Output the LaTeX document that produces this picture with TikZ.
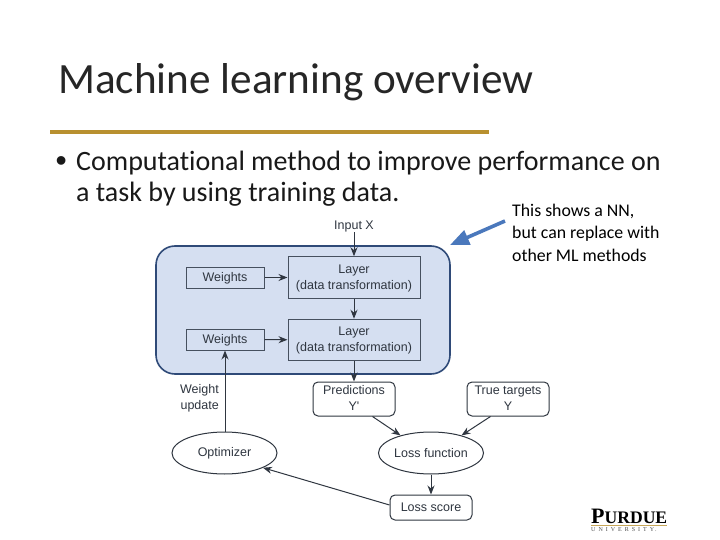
\documentclass[tikz,border=0pt]{standalone}
\usepackage{fontspec}
\setmainfont[Ligatures=NoCommon]{Carlito}
\newfontfamily\diagfont{Liberation Sans}
\newfontfamily\logofont{Liberation Serif}
\usetikzlibrary{arrows.meta,shapes.geometric}
\definecolor{inkc}{HTML}{2F3640}
\definecolor{boxc}{HTML}{46505F}
\definecolor{fillc}{HTML}{D5DFF1}
\definecolor{edgec}{HTML}{2F4A78}
\definecolor{goldc}{HTML}{B8902F}
\definecolor{arrowc}{HTML}{4A78BC}
\tikzset{
  flow/.style={draw=inkc,line width=1pt,-{Stealth[length=9pt,width=7pt]}},
  plain/.style={font=\diagfont\fontsize{12.5}{16}\selectfont,text=inkc,align=center,inner sep=0pt},
  squarebox/.style={plain,draw=boxc,line width=1pt,fill=fillc,minimum height=21pt},
  layerbox/.style={squarebox,minimum width=132pt,minimum height=41.5pt,text depth=1pt},
  weightbox/.style={squarebox,minimum width=78pt,minimum height=21pt,text depth=1pt},
  roundbox/.style={plain,draw=inkc,line width=1pt,rounded corners=5pt,fill=white,minimum width=82pt},
  oval/.style={plain,draw=inkc,line width=1pt,ellipse,fill=white,minimum width=105pt,minimum height=42pt},
  titletext/.style={anchor=base west,inner sep=0pt,font=\fontsize{43.2}{48}\selectfont,text=black!85},
  bodytext/.style={anchor=base west,inner sep=0pt,font=\fontsize{28}{32}\selectfont,text=black!90},
  notetext/.style={anchor=base west,inner sep=0pt,font=\fontsize{17.8}{20}\selectfont,text=black}
}
\begin{document}
\begin{tikzpicture}[x=1pt,y=-1pt]
\useasboundingbox (0,0) rectangle (720,540);
\fill[white] (0,0) rectangle (720,540);
% title and text
\node[titletext] (title) at (58,94) {Machine learning overview};
\fill[goldc] (50,130.5) rectangle (489,134.5);
\node[anchor=base west,inner sep=0pt,font=\diagfont\fontsize{32}{36}\selectfont,text=black!90] (bullet) at (55.5,172) {•};
\node[bodytext] (line1) at (76,171) {Computational method to improve performance on};
\node[bodytext] (line2) at (76,202) {a task by using training data.};
\node[notetext] (note1) at (512,217) {This shows a NN,};
\node[notetext] (note2) at (512,239) {but can replace with};
\node[notetext] (note3) at (512,261) {other ML methods};
% pointer arrow
\coordinate (ptail) at (505,221);
\coordinate (phead) at (450,245);
\draw[arrowc,line width=3.6pt,-{Triangle[length=19pt,width=15pt]}] (ptail) -- (phead);
% blue panel
\node[draw=edgec,line width=1.6pt,fill=fillc,rounded corners=19pt,minimum width=294pt,minimum height=128pt,inner sep=0pt] (panel) at (303,310) {};
% nodes
\node[plain] (input) at (354,226.5) {Input X};
\node[layerbox] (layer1) at (354,277.5) {Layer\\(data transformation)};
\node[layerbox] (layer2) at (354,340) {Layer\\(data transformation)};
\node[weightbox] (w1) at (225,277.5) {Weights};
\node[weightbox] (w2) at (225,339.5) {Weights};
\node[plain,align=right,anchor=east] (wu) at (219,398) {Weight\\update};
\node[roundbox,minimum height=34pt,text depth=2pt] (pred) at (354,399) {Predictions\\Y'};
\node[roundbox,minimum height=34pt,text depth=2pt] (true) at (508,399) {True targets\\Y};
\node[oval,text depth=1.5pt] (opt) at (224.5,453) {Optimizer};
\node[oval] (lossf) at (431,453) {Loss function};
\node[roundbox,minimum height=25pt] (score) at (431,507.5) {Loss score};
% connectors
\draw[flow] (input) -- (layer1);
\draw[flow] (layer1) -- (layer2);
\draw[flow] (layer2) -- (pred);
\draw[flow] (w1) -- (layer1);
\draw[flow] (w2) -- (layer2);
\draw[flow] (opt.north -| w2.south) -- (w2.south);
\draw[flow] (pred.south east) ++(-23,0) coordinate (pfrom) (pfrom) -- (lossf.150);
\draw[flow] (true.south west) ++(24,0) coordinate (tfrom) (tfrom) -- (lossf.30);
\draw[flow] (lossf) -- (score);
\draw[flow] (score.west) ++(0,-2.5) coordinate (sfrom) (sfrom) -- (opt.-21);
% logo
\node[inner sep=0pt,anchor=base west,font=\logofont\bfseries,text=black] (logo) at (591,523) {{\fontsize{22}{22}\selectfont P}{\fontsize{17.6}{22}\selectfont URDUE}};
\fill[goldc!80!white] (591,525) rectangle (667,526);
\node[inner sep=0pt,anchor=base west,font=\logofont\fontsize{6}{6}\selectfont,text=black!70] (logou) at (591,531) {U\,\,\,N\,\,\,I\,\,\,V\,\,\,E\,\,\,R\,\,\,S\,\,\,I\,\,\,T\,\,\,Y\,.};
\end{tikzpicture}
\end{document}
